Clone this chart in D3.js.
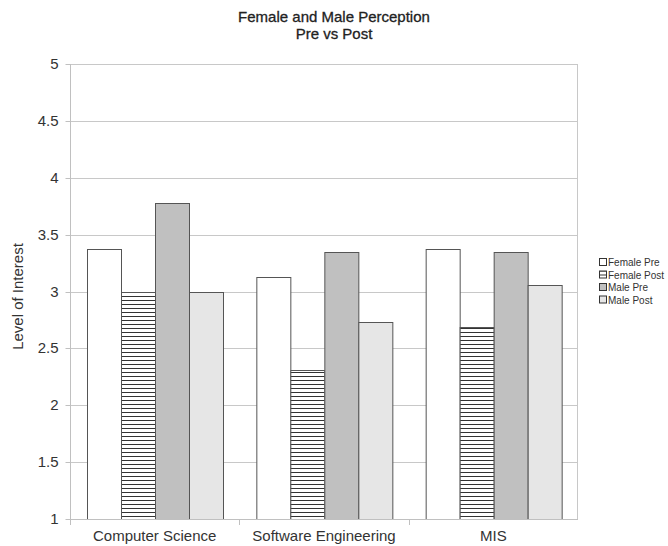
<!DOCTYPE html>
<html>
<head>
<meta charset="utf-8">
<script src="https://cdn.jsdelivr.net/npm/d3@7"></script>
<style>
  html, body { margin: 0; padding: 0; background: #fff; }
  svg { display: block; font-family: "Liberation Sans", Arial, sans-serif; }
</style>
</head>
<body>
<svg id="chart" width="668" height="546"></svg>
<script>
// Survey results: mean level of interest by program, split by gender and pre/post
const categories = ["Computer Science", "Software Engineering", "MIS"];
const seriesNames = ["Female Pre", "Female Post", "Male Pre", "Male Post"];
const femalePre  = [3.375, 3.125, 3.375];
const femalePost = [3.0, 2.31, 2.69];
const malePre    = [3.78, 3.35, 3.35];
const malePost   = [3.0, 2.73, 3.06];
const yTicks = [1, 1.5, 2, 2.5, 3, 3.5, 4, 4.5, 5];
const titleLines = ["Female and Male Perception", "Pre vs Post"];

const seriesValues = [femalePre, femalePost, malePre, malePost];
const fills = ["#ffffff", "url(#hatch)", "#c0c0c0", "#e6e6e6"];

const svg = d3.select("#chart");
const plot = { left: 70, right: 578, top: 64, bottom: 519 };
const font = "'Liberation Sans', Arial, sans-serif";

// Horizontal-line hatch for the "Female Post" series
const defs = svg.append("defs");
const pat = defs.append("pattern")
  .attr("id", "hatch").attr("patternUnits", "userSpaceOnUse")
  .attr("width", 8).attr("height", 4);
pat.append("rect").attr("width", 8).attr("height", 4).attr("fill", "#fff");
pat.append("rect").attr("y", 0).attr("width", 8).attr("height", 1).attr("fill", "#333");

const x0 = d3.scaleBand().domain(categories).range([plot.left, plot.right]);
const x1 = d3.scaleBand().domain(seriesNames).range([0, x0.bandwidth()])
  .paddingInner(0).paddingOuter(0.5);
const y = d3.scaleLinear().domain([1, 5]).range([plot.bottom, plot.top]);

// Gridlines
svg.append("g").selectAll("line").data(yTicks).join("line")
  .attr("x1", plot.left).attr("x2", plot.right)
  .attr("y1", d => Math.round(y(d)) + 0.5).attr("y2", d => Math.round(y(d)) + 0.5)
  .attr("stroke", "#c8c8c8").attr("stroke-width", 1);

// Plot frame: left and right edges
svg.append("line").attr("x1", plot.left + 0.5).attr("x2", plot.left + 0.5)
  .attr("y1", plot.top).attr("y2", plot.bottom + 6).attr("stroke", "#c0c0c0");
svg.append("line").attr("x1", plot.right - 0.5).attr("x2", plot.right - 0.5)
  .attr("y1", plot.top).attr("y2", plot.bottom).attr("stroke", "#c8c8c8");

// Y axis
const yAxis = svg.append("g").attr("transform", `translate(${plot.left + 0.5},0)`)
  .call(d3.axisLeft(y).tickValues(yTicks).tickSize(5).tickPadding(7).tickFormat(d3.format("")));
yAxis.select(".domain").remove();
yAxis.selectAll(".tick line").attr("stroke", "#c0c0c0");
yAxis.selectAll(".tick text").attr("font-size", 15).attr("fill", "#333")
  .attr("font-family", font);
yAxis.selectAll(".tick").attr("transform", d => `translate(0,${Math.round(y(d)) + 0.5})`);

// Bars
const groups = svg.append("g").selectAll("g").data(categories).join("g")
  .attr("transform", d => `translate(${x0(d)},0)`);
groups.selectAll("rect")
  .data((c, ci) => seriesNames.map((s, si) => ({ s, si, v: seriesValues[si][ci] })))
  .join("rect")
  .attr("x", d => Math.round(x1(d.s)) + 0.5)
  .attr("y", d => Math.round(y(d.v)) + 0.5)
  .attr("width", Math.round(x1.bandwidth()))
  .attr("height", d => Math.round(y(1)) - Math.round(y(d.v)))
  .attr("fill", (d) => fills[d.si])
  .attr("stroke", "#555").attr("stroke-width", 1);

// X axis baseline and category separators
svg.append("line").attr("x1", plot.left).attr("x2", plot.right)
  .attr("y1", plot.bottom + 0.5).attr("y2", plot.bottom + 0.5).attr("stroke", "#c0c0c0");
const xAxis = svg.append("g").attr("transform", `translate(0,${plot.bottom + 0.5})`)
  .call(d3.axisBottom(x0).tickSize(0).tickPadding(11));
xAxis.select(".domain").remove();
xAxis.selectAll(".tick text").attr("font-size", 15).attr("fill", "#333")
  .attr("font-family", font);
svg.append("g").selectAll("line").data(categories.slice(1)).join("line")
  .attr("x1", d => Math.round(x0(d)) + 0.5).attr("x2", d => Math.round(x0(d)) + 0.5)
  .attr("y1", plot.bottom).attr("y2", plot.bottom + 6).attr("stroke", "#c0c0c0");
// dark baseline under each bar group
groups.append("line")
  .attr("x1", Math.round(x1(seriesNames[0]))).attr("x2", Math.round(x1(seriesNames[3]) + x1.bandwidth()) + 1)
  .attr("y1", plot.bottom + 0.5).attr("y2", plot.bottom + 0.5).attr("stroke", "#111");

// Y axis title
svg.append("text")
  .attr("transform", `translate(23,${(plot.top + plot.bottom) / 2 + 5}) rotate(-90)`)
  .attr("text-anchor", "middle").attr("font-size", 15).attr("fill", "#333")
  .text("Level of Interest");

// Chart title
svg.append("text").attr("y", 22).attr("text-anchor", "middle")
  .attr("font-size", 15).attr("fill", "#222").attr("stroke", "#222").attr("stroke-width", 0.3)
  .selectAll("tspan").data(titleLines).join("tspan")
  .attr("x", 334).attr("dy", (d, i) => i === 0 ? 0 : 17).text(d => d);

// Legend
const legend = svg.append("g").attr("transform", "translate(599,258)");
const items = legend.selectAll("g").data(seriesNames).join("g")
  .attr("transform", (d, i) => `translate(0,${i * 12.5})`);
items.append("rect").attr("x", 0.5).attr("y", 0.5).attr("width", 7).attr("height", 7)
  .attr("fill", (d, i) => fills[i]).attr("stroke", "#333");
items.append("text").attr("x", 9).attr("y", 8).attr("font-size", 10).attr("fill", "#333")
  .text(d => d);
</script>
</body>
</html>
